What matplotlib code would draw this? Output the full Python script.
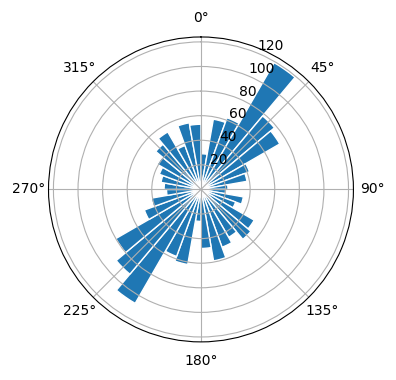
import matplotlib
matplotlib.use("Agg")
import matplotlib.pyplot as plt
import numpy as np

# направления (центры секторов, градусы) и частоты
directions = np.arange(5, 360, 10)
counts = [29, 58, 62, 119, 78, 74, 42, 38, 22,
          20, 35, 30, 50, 53, 45, 50, 59, 48,
          26, 62, 58, 107, 90, 80, 49, 41, 28,
          30, 33, 36, 41, 48, 54, 38, 55, 53]
r_ticks = [20, 40, 60, 80, 100, 120]

fig = plt.figure(figsize=(3.96, 3.8), dpi=100)
ax = fig.add_axes([0.1225, 0.1, 0.770, 0.803], projection="polar")
ax.set_theta_zero_location("N")
ax.set_theta_direction(-1)

theta = np.deg2rad(directions)
ax.bar(theta, counts, width=np.deg2rad(10), color="#1f77b4",
       edgecolor="white", linewidth=1)

ax.set_ylim(0, 124)
ax.set_yticks(r_ticks)

fig.savefig("out.png", dpi=100)
